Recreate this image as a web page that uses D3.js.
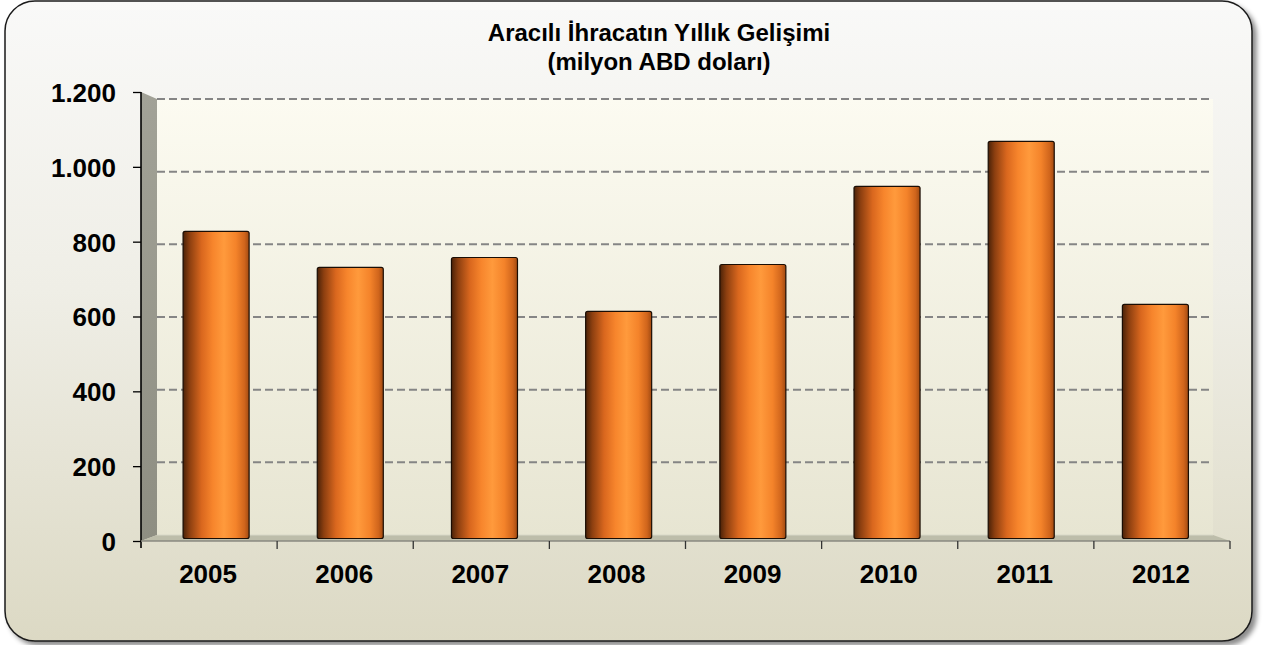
<!DOCTYPE html>
<html>
<head>
<meta charset="utf-8">
<script src="https://cdn.jsdelivr.net/npm/d3@7/dist/d3.min.js"></script>
<style>
html,body{margin:0;padding:0;background:#ffffff;}
svg{display:block;font-family:"Liberation Sans",Arial,sans-serif;}
</style>
</head>
<body>
<svg id="chart" width="1268" height="645"></svg>
<script>
// ---- data ----
const categories = ["2005","2006","2007","2008","2009","2010","2011","2012"];
const values = [833, 735, 762, 616, 743, 955, 1077, 635];
const yTicks = [0, 200, 400, 600, 800, 1000, 1200];
const yTickLabels = ["0","200","400","600","800","1.000","1.200"];
const titleLines = ["Aracılı İhracatın Yıllık Gelişimi", "(milyon ABD doları)"];

const svg = d3.select("#chart");
const defs = svg.append("defs");

// gradients
const bg = defs.append("linearGradient").attr("id","bg").attr("x1",0).attr("y1",0).attr("x2",0).attr("y2",1);
bg.append("stop").attr("offset","0%").attr("stop-color","#f9f9f8");
bg.append("stop").attr("offset","45%").attr("stop-color","#efeee6");
bg.append("stop").attr("offset","100%").attr("stop-color","#dcd9c4");

const wall = defs.append("linearGradient").attr("id","wall").attr("x1",0).attr("y1",0).attr("x2",0).attr("y2",1);
wall.append("stop").attr("offset","0%").attr("stop-color","#fcfbf1");
wall.append("stop").attr("offset","100%").attr("stop-color","#e7e5d2");

const side = defs.append("linearGradient").attr("id","side").attr("x1",0).attr("y1",0).attr("x2",0).attr("y2",1);
side.append("stop").attr("offset","0%").attr("stop-color","#a2a297");
side.append("stop").attr("offset","100%").attr("stop-color","#8e8e82");

const barG = defs.append("linearGradient").attr("id","barg").attr("x1",0).attr("y1",0).attr("x2",1).attr("y2",0);
[["0%","#4a2208"],["10%","#8c3f10"],["28%","#d9671e"],["45%","#f7852c"],["62%","#ff9a3c"],["80%","#f4832a"],["93%","#d0651c"],["100%","#a04a12"]]
  .forEach(s=>barG.append("stop").attr("offset",s[0]).attr("stop-color",s[1]));

const shadow = defs.append("filter").attr("id","shadow").attr("x","-5%").attr("y","-5%").attr("width","115%").attr("height","115%");
shadow.append("feDropShadow").attr("dx",4).attr("dy",4).attr("stdDeviation",2.5).attr("flood-color","#000").attr("flood-opacity",0.45);

// outer frame
svg.append("rect").attr("x",5).attr("y",1).attr("width",1247).attr("height",640)
  .attr("rx",30).attr("ry",30).attr("fill","url(#bg)")
  .attr("stroke","#1a1a1a").attr("stroke-width",1.5).attr("filter","url(#shadow)");

// scales
const front = {x0:141, x1:1230};
const back = {x0:157, x1:1213};
const yFront = d3.scaleLinear().domain([0,1200]).range([541, 92]);
const yBack = d3.scaleLinear().domain([0,1200]).range([535, 99]);
const yBar = d3.scaleLinear().domain([0,1200]).range([538.5, 96]);
const xBand = d3.scaleBand().domain(categories).range([149, 1222.5]).paddingInner(0.508).paddingOuter(0.254);
const xFront = d3.scaleBand().domain(categories).range([front.x0, front.x1]);

// back wall
svg.append("rect").attr("x",back.x0).attr("y",yBack(1200)).attr("width",back.x1-back.x0)
  .attr("height",yBack(0)-yBack(1200)).attr("fill","url(#wall)");

// side wall
svg.append("polygon")
  .attr("points",[[front.x0,yFront(1200)],[back.x0,yBack(1200)],[back.x0,yBack(0)],[front.x0,yFront(0)]].map(p=>p.join(",")).join(" "))
  .attr("fill","url(#side)");

// floor
svg.append("polygon")
  .attr("points",[[front.x0,yFront(0)],[back.x0,yBack(0)],[back.x1,yBack(0)],[front.x1,yFront(0)]].map(p=>p.join(",")).join(" "))
  .attr("fill","#bdbdaa");
svg.append("line").attr("x1",back.x0).attr("x2",back.x1).attr("y1",yBack(0)).attr("y2",yBack(0))
  .attr("stroke","#d8d8c8").attr("stroke-width",1);

// gridlines
svg.append("g").selectAll("line").data(yTicks.filter(d=>d>0)).join("line")
  .attr("x1",back.x0).attr("x2",back.x1)
  .attr("y1",d=>yBack(d)).attr("y2",d=>yBack(d))
  .attr("stroke","#858585").attr("stroke-width",2).attr("stroke-dasharray","8,4");

// bars
svg.append("g").selectAll("rect").data(values).join("rect")
  .attr("x",(d,i)=>xBand(categories[i]))
  .attr("width",xBand.bandwidth())
  .attr("y",d=>yBar(d))
  .attr("height",d=>yBar(0)-yBar(d))
  .attr("rx",2).attr("ry",2)
  .attr("fill","url(#barg)")
  .attr("stroke","#1a0d04").attr("stroke-width",1.2);

// front y axis
svg.append("line").attr("x1",front.x0).attr("x2",front.x0).attr("y1",yFront(1200)).attr("y2",yFront(0)+7)
  .attr("stroke","#000").attr("stroke-width",1.6);
const yAxisG = svg.append("g").attr("transform",`translate(${front.x0},0)`)
  .call(d3.axisLeft(yFront).tickValues(yTicks).tickSize(8).tickFormat((d,i)=>yTickLabels[i]));
yAxisG.select(".domain").remove();
yAxisG.selectAll(".tick line").attr("stroke","#000").attr("stroke-width",1.3);
yAxisG.selectAll(".tick text").attr("x",-25).attr("dy","0.36em")
  .style("font-size","26px").style("font-weight","bold").attr("fill","#000")
  .style("font-family","'Liberation Sans',Arial,sans-serif");

// front x axis
svg.append("line").attr("x1",front.x0).attr("x2",front.x1).attr("y1",yFront(0)).attr("y2",yFront(0))
  .attr("stroke","#8a8a80").attr("stroke-width",1.5);
svg.append("g").selectAll("line").data(categories.slice(1).concat(["end"])).join("line")
  .attr("x1",(d,i)=>front.x0 + (i+1)*xFront.step()).attr("x2",(d,i)=>front.x0 + (i+1)*xFront.step())
  .attr("y1",yFront(0)).attr("y2",yFront(0)+8)
  .attr("stroke","#333").attr("stroke-width",1.3);
svg.append("g").selectAll("text").data(categories).join("text")
  .attr("x",d=>xFront(d)+xFront.bandwidth()/2 - 1)
  .attr("y",583)
  .attr("text-anchor","middle")
  .style("font-size","26px").style("font-weight","bold").attr("fill","#000")
  .text(d=>d);

// title
svg.append("g").selectAll("text").data(titleLines).join("text")
  .attr("x",659).attr("y",(d,i)=>41+i*29)
  .attr("text-anchor","middle")
  .style("font-size","24px").style("font-weight","bold").attr("fill","#000")
  .text(d=>d);
</script>
</body>
</html>
